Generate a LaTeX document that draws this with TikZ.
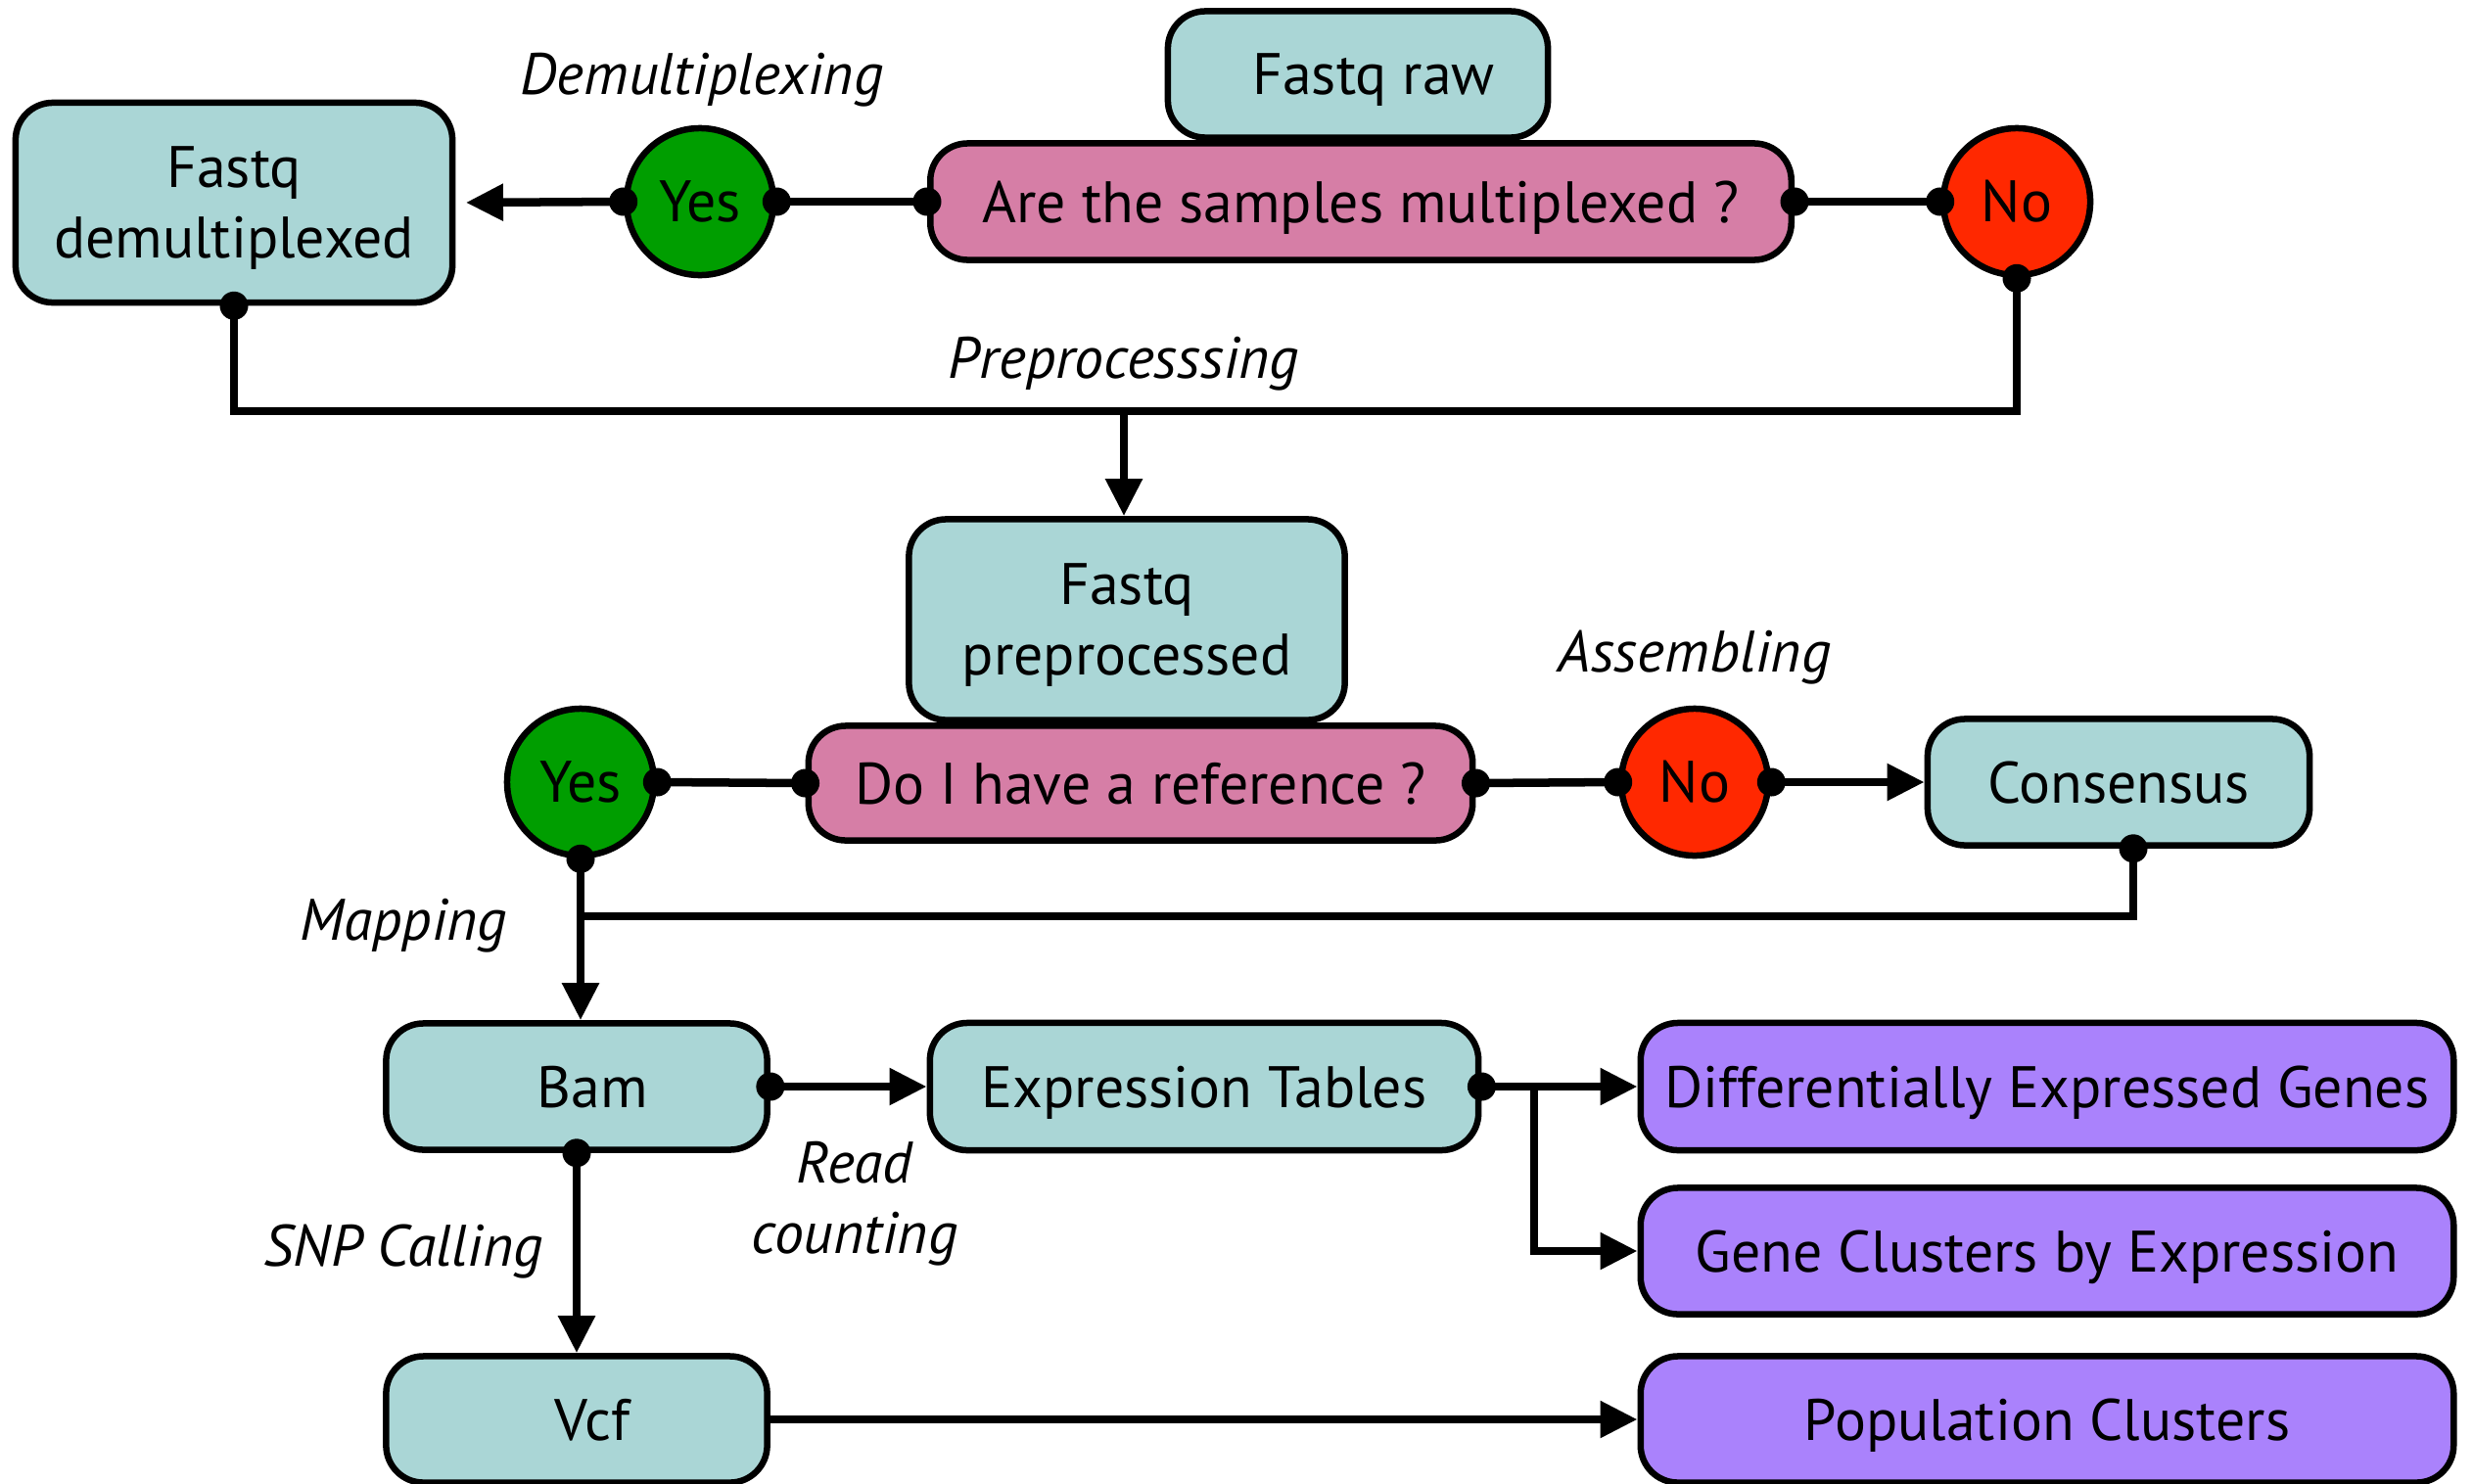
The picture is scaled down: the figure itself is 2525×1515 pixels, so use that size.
\documentclass[tikz,border=0pt]{standalone}
\usepackage{fontspec}
\setmainfont{PT Sans}
\usetikzlibrary{arrows.meta}
\definecolor{boxteal}{RGB}{170,214,214}
\definecolor{askpink}{RGB}{214,126,166}
\definecolor{yesgreen}{RGB}{0,158,0}
\definecolor{nored}{RGB}{255,40,0}
\definecolor{outpurple}{RGB}{170,130,252}
% small indent used to push a few box labels right of centre
\newcommand{\nudge}{\hspace*{0.32cm}}

\begin{document}
\begin{tikzpicture}[x=0.01cm,y=-0.01cm,
  base/.style={draw=black, line width=0.065cm, inner sep=0pt, align=center,
               font=\fontsize{17}{20.5}\selectfont},
  stage/.style={base, rounded corners=0.38cm, fill=boxteal, text depth=0pt},
  ask/.style={base, rounded corners=0.38cm, fill=askpink, text depth=0pt},
  result/.style={base, rounded corners=0.38cm, fill=outpurple, text depth=0pt},
  yesnode/.style={base, circle, fill=yesgreen, minimum size=1.5cm},
  nonode/.style={base, circle, fill=nored, minimum size=1.5cm},
  conn/.style={line width=0.085cm},
  arr/.style={conn, -{Triangle[length=0.38cm,width=0.36cm]}},
  phase/.style={font=\fontsize{17}{20.5}\selectfont\itshape, anchor=base},
]
\useasboundingbox (0,0) rectangle (2525,1515);

% --- demultiplexing decision ---
\node[stage, minimum width=3.88cm, minimum height=1.29cm] (raw) at (1387,76) {\nudge Fastq raw};
\node[ask, minimum width=8.79cm, minimum height=1.19cm] (q1) at (1390,206) {Are the samples multiplexed ?};
\node[yesnode] (yes1) at (715,206) {Yes};
\node[nonode] (no1) at (2060,206) {No};
\node[stage, minimum width=4.46cm, minimum height=2.04cm] (demux) at (239,207) {Fastq\\demultiplexed};
\node[phase] (lbdemux) at (717,97) {Demultiplexing};

% --- preprocessing ---
\coordinate (bus1) at (1148,420);
\node[phase] (lbprep) at (1148,386) {Preprocesssing};
\node[stage, minimum width=4.45cm, minimum height=2.05cm] (prep) at (1151,633) {Fastq\\preprocessed};

% --- reference decision ---
\node[ask, minimum width=6.78cm, minimum height=1.17cm] (q2) at (1165,800) {Do I have a reference ?};
\node[yesnode] (yes2) at (593,799) {Yes};
\node[nonode] (no2) at (1731,799) {No};
\node[stage, minimum width=3.90cm, minimum height=1.29cm] (cons) at (2164,799) {Consensus};
\node[phase] (lbasm) at (1731,686) {Assembling};
\node[phase] (lbmap) at (412,960) {Mapping};
\coordinate (cx) at (2179,0);
\coordinate (bus2) at (593,936);

% --- downstream products ---
\node[stage, minimum width=3.89cm, minimum height=1.29cm] (bam) at (589,1110) {\nudge Bam};
\node[stage, minimum width=5.60cm, minimum height=1.30cm] (expr) at (1230,1110) {Expression Tables};
\node[result, minimum width=8.30cm, minimum height=1.30cm] (deg) at (2091,1110) {Differentially Expressed Genes};
\node[result, minimum width=8.30cm, minimum height=1.29cm] (gce) at (2091,1278) {Gene Clusters by Expression};
\node[stage, minimum width=3.89cm, minimum height=1.29cm] (vcf) at (589,1450) {\nudge Vcf};
\node[result, minimum width=8.30cm, minimum height=1.29cm] (pop) at (2091,1450) {Population Clusters};
\node[phase] (lbread) at (873,1208) {Read};
\node[phase] (lbcount) at (873,1280) {counting};
\node[phase] (lbsnp) at (412,1293) {SNP Calling};
\coordinate (br) at (1567,1110);

% connectors
\draw[arr, shorten >=3pt] (yes1.west) -- (demux.east);
\draw[conn] (yes1.east) -- (q1.west);
\draw[conn] (q1.east) -- (no1.west);
\draw[conn] (demux.south) |- (no1.south |- bus1) -- (no1.south);
\draw[arr] (bus1) -- (bus1 |- prep.north);

\draw[conn] (yes2.east) -- (q2.west);
\draw[conn] (q2.east) -- (no2.west);
\draw[arr] (no2.east) -- (cons.west);
\draw[conn] (cons.south -| cx) |- (bus2);
\draw[arr] (yes2.south) -- (yes2.south |- bam.north);

\draw[arr] (bam.east) -- (expr.west);
\draw[arr] (expr.east) -- (deg.west);
\draw[arr] (br) |- (gce.west);
\draw[arr] (bam.south) -- (vcf.north);
\draw[arr] (vcf.east) -- (pop.west);

% junction dots
\foreach \p in {yes1.west, yes1.east, q1.west, q1.east, no1.west, no1.south,
                demux.south, yes2.east, q2.west, q2.east, no2.west, no2.east,
                yes2.south, bam.east, bam.south, expr.east}
  \fill (\p) circle[radius=0.145cm];
\fill (cons.south -| cx) circle[radius=0.145cm];
\end{tikzpicture}
\end{document}
